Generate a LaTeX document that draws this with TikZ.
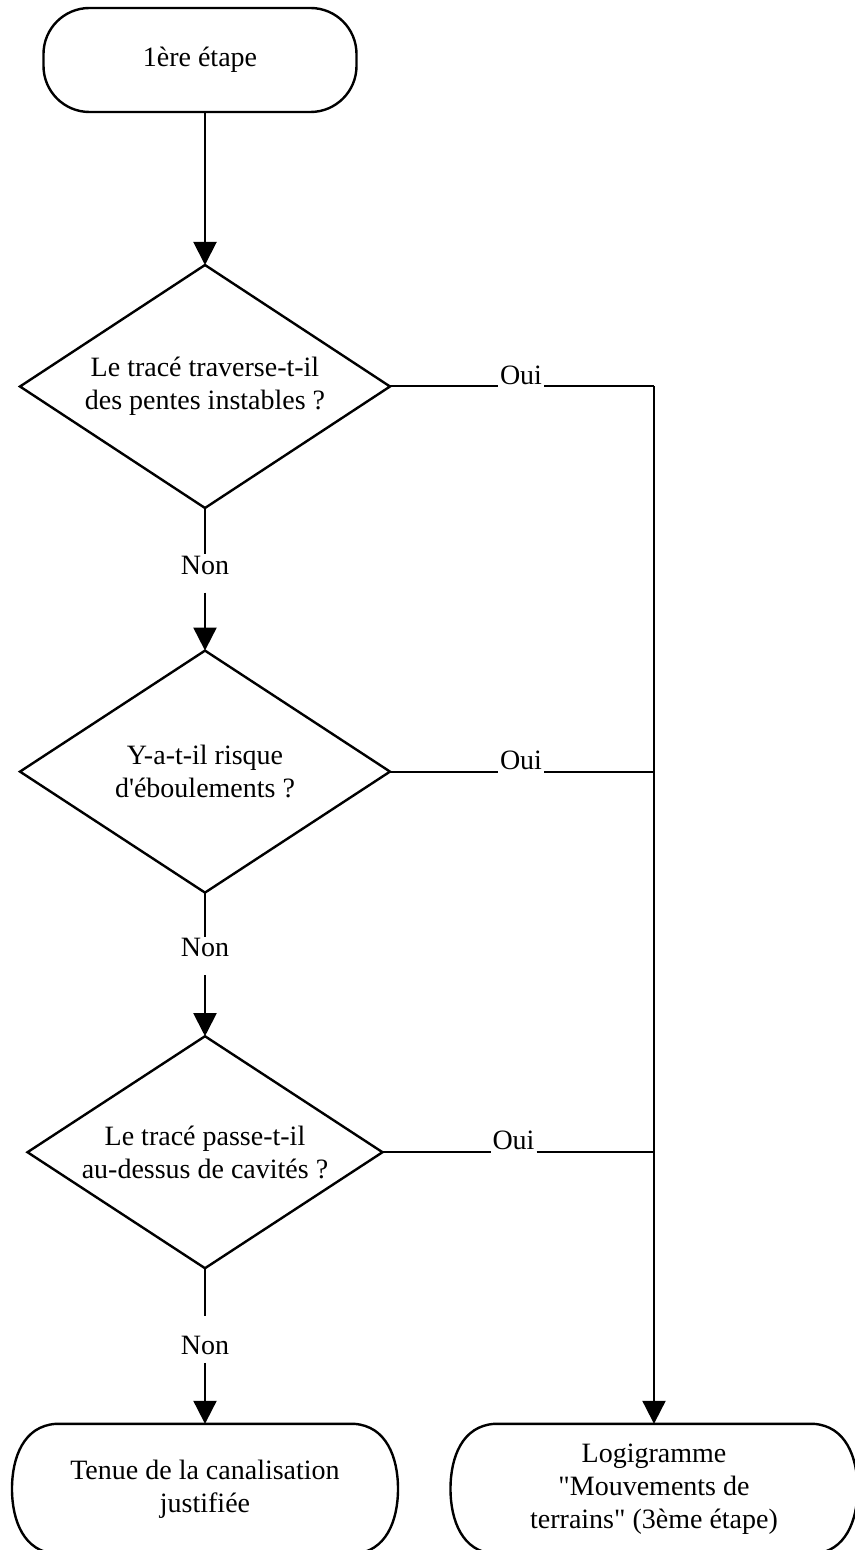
\documentclass[tikz,border=0pt]{standalone}
\usepackage{fontspec}
\setmainfont{Liberation Serif}
\usepackage{tikz}
\usetikzlibrary{positioning, arrows.meta, shapes.geometric}

\begin{document}
\begin{tikzpicture}[
    font=\fontsize{14}{16.5}\selectfont,
    startnode/.style={rectangle, rounded corners=23pt, draw=black, line width=1.2pt, minimum width=156.5pt, minimum height=52pt, outer sep=0pt},
    questnode/.style={diamond, draw=black, line width=1.2pt, align=center, inner sep=0pt, outer sep=0pt, shape aspect=1.52},
    endnode/.style={rectangle, align=center, minimum height=65pt, inner sep=0pt, outer sep=0pt},
    labelnode/.style={inner sep=1pt, outer sep=0pt},
    link/.style={draw=black, line width=1pt},
    arrow/.style={link, -{Triangle[length=11.5pt, width=11.5pt]}}
]
\useasboundingbox (-102.5pt,30pt) rectangle (325pt,-745pt);
\node[startnode, xshift=-2.5pt](start){1ère étape};
\node[questnode, minimum width=185pt, minimum height=121.5pt](d1)[below = 76.5pt of start, xshift=2.5pt]{Le tracé traverse-t-il\\des pentes instables ?};
\node[labelnode](non1)[below = 23pt of d1]{Non};
\node[questnode, minimum width=185pt, minimum height=121pt](d2)[below = 37pt of non1]{Y-a-t-il risque\\d\textquotesingle éboulements ?};
\node[labelnode](non2)[below = 22pt of d2]{Non};
\node[questnode, minimum width=177.5pt, minimum height=116pt](d3)[below = 38.5pt of non2]{Le tracé passe-t-il\\au-dessus de cavités ?};
\node[labelnode](non3)[below = 33pt of d3]{Non};
\node[endnode, minimum width=149pt](endL)[below = 33.5pt of non3]{Tenue de la canalisation\\justifiée};
\node[endnode, minimum width=159.5pt](endR)[right = 70.25pt of endL]{Logigramme\\\textquotedbl Mouvements de\\terrains\textquotedbl{} (3ème étape)};
\foreach \n in {endL,endR}
  \draw[line width=1.2pt] (\n.north west) -- (\n.north east)
    .. controls +(16pt,-1pt) and +(0,16pt) .. ([xshift=22pt]\n.east)
    .. controls +(0,-16pt) and +(16pt,1pt) .. (\n.south east)
    -- (\n.south west)
    .. controls +(-16pt,1pt) and +(0,-16pt) .. ([xshift=-22pt]\n.west)
    .. controls +(0,16pt) and +(-16pt,-1pt) .. cycle;
\node[labelnode, right = 54pt of d1.east, anchor=south west](oui1){Oui};
\node[labelnode, right = 54pt of d2.east, anchor=south west](oui2){Oui};
\node[labelnode, right = 54pt of d3.east, anchor=south west](oui3){Oui};
\coordinate (j1) at (endR.north |- d1.east);
\coordinate (j2) at (endR.north |- d2.east);
\coordinate (j3) at (endR.north |- d3.east);
\draw[arrow] (start.south -| d1.north) -- (d1.north);
\draw[link] (d1) -- (non1);
\draw[arrow, shorten <=8pt] (non1) -- (d2);
\draw[link] (d2) -- (non2);
\draw[arrow, shorten <=8pt] (non2) -- (d3);
\draw[link, shorten >=9pt] (d3) -- (non3);
\draw[arrow, shorten <=3pt] (non3) -- (endL);
\draw[link] (d1.east) -- (oui1.south west);
\draw[link] (oui1.south east) -- (j1);
\draw[link] (d2.east) -- (oui2.south west);
\draw[link] (oui2.south east) -- (j2);
\draw[link] (d3.east) -- (oui3.south west);
\draw[link] (oui3.south east) -- (j3);
\draw[arrow] (j1) -- (endR.north);
\end{tikzpicture}
\end{document}
